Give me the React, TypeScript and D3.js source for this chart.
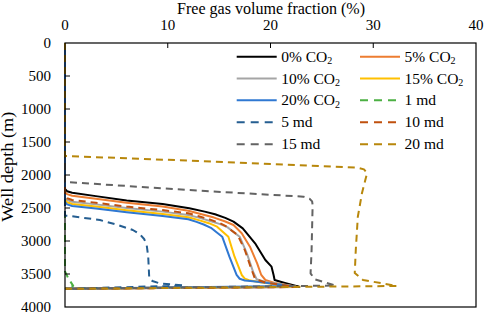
import React from "react";
import * as d3 from "d3";

type Pt = [number, number];

const xTicks = [0, 10, 20, 30, 40];
const yTicks = [0, 500, 1000, 1500, 2000, 2500, 3000, 3500, 4000];

const co2_0: Pt[] = [[0,0],[0,2212],[0.2,2245],[0.7,2268],[3,2320],[6,2385],[9.5,2440],[12.1,2505],[13.6,2555],[14.6,2595],[15.6,2650],[16.4,2707],[17.3,2808],[18.5,3035],[19.5,3288],[20.1,3389],[20.3,3515],[20.4,3591],[21.4,3636],[22.5,3682],[22.8,3695],[0,3725]];
const co2_5: Pt[] = [[0,0],[0,2255],[0.2,2290],[0.7,2314],[3,2360],[6,2420],[9.5,2478],[12.0,2541],[13.3,2595],[14.5,2645],[15.6,2705],[16.4,2758],[17.2,2883],[18.0,3086],[18.7,3338],[19.1,3515],[19.5,3591],[20.4,3636],[21.9,3674],[22.6,3697],[0,3725]];
const co2_10: Pt[] = [[0,0],[0,2345],[0.2,2380],[0.7,2405],[3,2445],[6,2500],[9.5,2555],[12.0,2606],[13.1,2650],[14.2,2700],[15.1,2745],[15.8,2790],[17.0,2935],[17.7,3187],[18.3,3465],[18.65,3580],[19.5,3621],[21.5,3667],[22.5,3697],[0,3725]];
const co2_15: Pt[] = [[0,0],[0,2378],[0.2,2412],[0.7,2439],[3,2478],[6,2535],[9.5,2590],[12.0,2641],[13.1,2688],[14.0,2730],[14.8,2783],[15.9,2935],[16.5,3238],[17.2,3515],[17.5,3570],[17.9,3595],[19.0,3625],[22.3,3690],[0,3725]];
const co2_20: Pt[] = [[0,0],[0,2409],[0.2,2445],[0.7,2470],[3,2508],[6,2565],[9.5,2620],[12.0,2671],[12.8,2710],[13.5,2750],[14.2,2800],[15.3,2935],[16.0,3238],[16.7,3515],[17.0,3572],[17.5,3598],[18.3,3610],[22.0,3680],[0,3725]];
const md_1: Pt[] = [[0,0],[0,3460],[0.3,3560],[0.8,3680],[0,3725]];
const md_5: Pt[] = [[0,0],[0,2616],[0.5,2621],[3.4,2682],[5.2,2760],[6.6,2833],[7.3,2900],[7.7,2970],[7.95,3060],[8.1,3238],[8.2,3565],[8.5,3605],[9.2,3641],[11.6,3675],[0,3725]];
const md_10: Pt[] = [[0,0],[0,2318],[0.2,2352],[0.7,2379],[3,2420],[6,2478],[9.5,2532],[12.0,2580],[13.1,2628],[14.2,2680],[15.0,2725],[15.7,2780],[16.8,2909],[17.5,3136],[18.1,3409],[18.5,3576],[19.5,3629],[22.5,3697],[0,3725]];
const md_15: Pt[] = [[0,0],[0,2106],[13.1,2238],[23.2,2328],[23.8,2360],[24.05,2400],[24.1,2454],[24.0,3136],[23.9,3490],[24.3,3580],[26.3,3675],[0,3725]];
const md_20: Pt[] = [[0,0],[0,1712],[13.1,1788],[28.5,1890],[29.1,1915],[29.4,1970],[28.9,2277],[28.5,2632],[28.3,3136],[28.2,3485],[29.0,3590],[32.3,3682],[0,3725]];

const seriesNames = ["0% CO", "5% CO", "10% CO", "15% CO", "20% CO", "1 md", "5 md", "10 md", "15 md", "20 md"];
const seriesSub = [true, true, true, true, true, false, false, false, false, false];
const seriesData = [co2_0, co2_5, co2_10, co2_15, co2_20, md_1, md_5, md_10, md_15, md_20];
const seriesColors = ["#000000", "#ED7D31", "#A5A5A5", "#FFC000", "#2F78D2", "#4CB043", "#255E91", "#C0500E", "#636363", "#B8870B"];
const seriesDashed = [false, false, false, false, false, true, true, true, true, true];

const W = 484, H = 313;
const L = 65, R = 476, T = 43, B = 307;
const FONT = "Liberation Serif, Times New Roman, serif";

export default function App() {
  const x = d3.scaleLinear().domain([0, 40]).range([L, R]);
  const y = d3.scaleLinear().domain([0, 4000]).range([T, B]);
  const line = d3.line<Pt>().x(d => x(d[0])).y(d => y(d[1]));

  const legendRows = [56.7, 78.5, 100.3, 122.2, 144.2];
  const legendCols = [236.7, 360];

  return (
    <svg width={W} height={H} style={{ position: "absolute", left: 0, top: 0 }}>
      <rect x={0} y={0} width={W} height={H} fill="#fff" />
      {seriesData.map((d, i) => (
        <path key={i} d={line(d) || ""} fill="none" stroke={seriesColors[i]} strokeWidth={2}
          strokeDasharray={seriesDashed[i] ? "7,5" : undefined} strokeLinejoin="round" />
      ))}
      <rect x={L} y={T} width={R - L} height={B - T} fill="none" stroke="#000" strokeWidth={1.2} />
      {xTicks.map(t => (
        <g key={"x" + t}>
          {t > 0 && t < 40 && <line x1={x(t)} x2={x(t)} y1={T} y2={T + 5} stroke="#000" strokeWidth={1} />}
          <text x={x(t)} y={30} textAnchor="middle" fontSize={15} fontFamily={FONT}>{t}</text>
        </g>
      ))}
      {yTicks.map(t => (
        <g key={"y" + t}>
          {t > 0 && t < 4000 && <line x1={L} x2={L + 5} y1={y(t)} y2={y(t)} stroke="#000" strokeWidth={1} />}
          <text x={51} y={y(t) + 4.5} textAnchor="end" fontSize={15} fontFamily={FONT}>{t}</text>
        </g>
      ))}
      <text x={271} y={13.5} textAnchor="middle" fontSize={16} fontFamily={FONT}
        textLength={188} lengthAdjust="spacingAndGlyphs">Free gas volume fraction (%)</text>
      <text transform={`translate(13,166.7) rotate(-90)`} textAnchor="middle" fontSize={16} fontFamily={FONT}
        textLength={110} lengthAdjust="spacingAndGlyphs">Well depth (m)</text>
      {seriesNames.map((name, i) => {
        const row = Math.floor(i / 2);
        const col = i % 2;
        const ly = legendRows[row];
        const lx = legendCols[col];
        return (
          <g key={"lg" + i}>
            <line x1={lx} x2={lx + 40} y1={ly} y2={ly} stroke={seriesColors[i]} strokeWidth={2}
              strokeDasharray={seriesDashed[i] ? "8,6" : undefined} />
            <text x={lx + 44.5} y={ly + 5} fontSize={15.5} fontFamily={FONT}>
              {name}
              {seriesSub[i] && <tspan fontSize={10} dy={2.5}>2</tspan>}
            </text>
          </g>
        );
      })}
    </svg>
  );
}
